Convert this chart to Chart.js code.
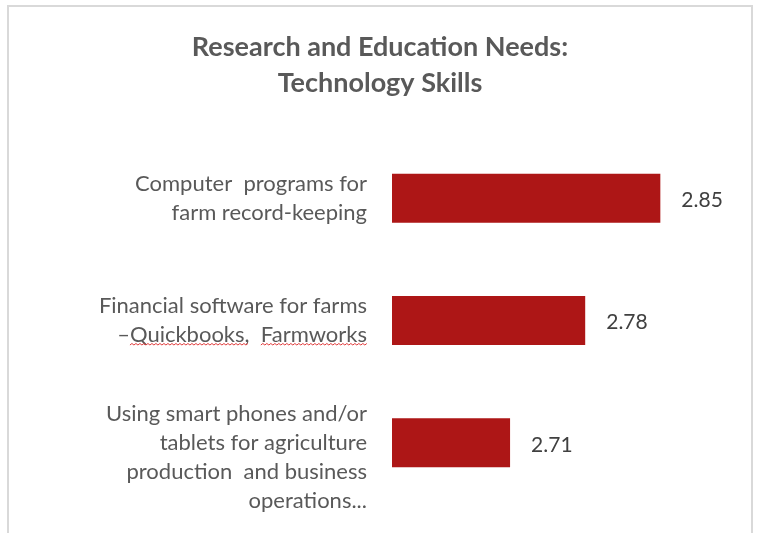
<!DOCTYPE html>
<html>
<head>
<meta charset="utf-8">
<script src="https://cdn.jsdelivr.net/npm/chart.js@4.4.0/dist/chart.umd.min.js"></script>
<style>
  html, body { margin: 0; padding: 0; background: #fff; }
  #wrap { position: relative; width: 757px; height: 533px; overflow: hidden; }
  #frame {
    position: absolute; left: 7px; top: 5px; width: 746px; height: 560px;
    border: 2px solid #d9d9d9; border-bottom: none; box-sizing: border-box;
  }
  #grafico { position: absolute; left: 0; top: 0; }
</style>
</head>
<body>
<div id="wrap">
  <div id="frame"></div>
  <canvas id="grafico" width="757" height="533"></canvas>
</div>
<script>
// ---------- DADOS ----------
const titleLines = ["Research and Education Needs:", "Technology Skills"];
const skills = [
  ["Computer  programs for", "farm record-keeping"],
  ["Financial software for farms", "–Quickbooks,  Farmworks"],
  // linha vazia no topo: o texto desce um pouco em relação à barra
  ["", "Using smart phones and/or", "tablets for agriculture", "production  and business", "operations..."]
];
const scores = [2.85, 2.78, 2.71];
const axisMin = 2.6;
const axisMax = 2.9;

const TEXT_GRAY = "#595959";
const BAR_RED = "#ad1616";
const LABEL_FONT = { family: "Lato", size: 22, lineHeight: "29px" };

// ---------- ROTULOS DE VALOR ----------
const valueLabels = {
  id: "valueLabels",
  afterDatasetsDraw(chart) {
    const ctx = chart.ctx;
    const meta = chart.getDatasetMeta(0);
    ctx.save();
    ctx.font = "21px Lato";
    ctx.fillStyle = "#404040";
    ctx.textBaseline = "middle";
    ctx.textAlign = "left";
    meta.data.forEach((bar, i) => {
      ctx.fillText(scores[i].toFixed(2), bar.x + 21, bar.y + 2);
    });
    ctx.restore();
  }
};

// ---------- SUBLINHADO ONDULADO (corretor) ----------
function squiggle(ctx, x0, x1, y) {
  ctx.beginPath();
  let up = true;
  ctx.moveTo(x0, y);
  for (let x = x0 + 2; x <= x1; x += 2) {
    ctx.lineTo(x, up ? y - 1.5 : y);
    up = !up;
  }
  ctx.stroke();
}

const spellMarks = {
  id: "spellMarks",
  afterDraw(chart) {
    const ctx = chart.ctx;
    const yScale = chart.scales.y;
    const text = skills[1][1];
    const rightX = yScale.right - yScale.options.ticks.padding;
    const lineY = yScale.getPixelForTick(1) + 29 / 2;
    ctx.save();
    ctx.font = LABEL_FONT.size + "px " + LABEL_FONT.family;
    const startX = rightX - ctx.measureText(text).width;
    const w = s => ctx.measureText(s).width;
    ctx.strokeStyle = "#e03a3a";
    ctx.lineWidth = 1;
    squiggle(ctx, startX + w("–"), startX + w("–Quickbooks,"), lineY + 10);
    squiggle(ctx, startX + w("–Quickbooks,  "), rightX, lineY + 10);
    ctx.restore();
  }
};

// ---------- GRAFICO ----------
const ctx = document.getElementById("grafico").getContext("2d");
new Chart(ctx, {
  type: "bar",
  data: {
    labels: skills,
    datasets: [{
      data: scores,
      backgroundColor: BAR_RED,
      borderWidth: 0,
      categoryPercentage: 1,
      barPercentage: 0.4
    }]
  },
  options: {
    indexAxis: "y",
    responsive: false,
    animation: false,
    layout: { padding: { left: 46, right: 43, top: 0, bottom: 29 } },
    plugins: {
      legend: { display: false },
      tooltip: { enabled: false },
      title: {
        display: true,
        text: titleLines,
        color: TEXT_GRAY,
        font: { family: "Lato", weight: "bold", size: 27, lineHeight: "36px" },
        padding: { top: 29, bottom: 36 }
      }
    },
    scales: {
      x: {
        display: false,
        min: axisMin,
        max: axisMax
      },
      y: {
        grid: { display: false, drawTicks: false },
        border: { display: false },
        ticks: {
          color: TEXT_GRAY,
          font: LABEL_FONT,
          padding: 25,
          autoSkip: false
        },
        afterFit(scale) {
          // rótulos cabem dentro de cada categoria, sem margem extra
          scale.width = 346;
          scale.paddingTop = 0;
          scale.paddingBottom = 0;
        }
      }
    }
  },
  plugins: [valueLabels, spellMarks]
});
</script>
</body>
</html>
